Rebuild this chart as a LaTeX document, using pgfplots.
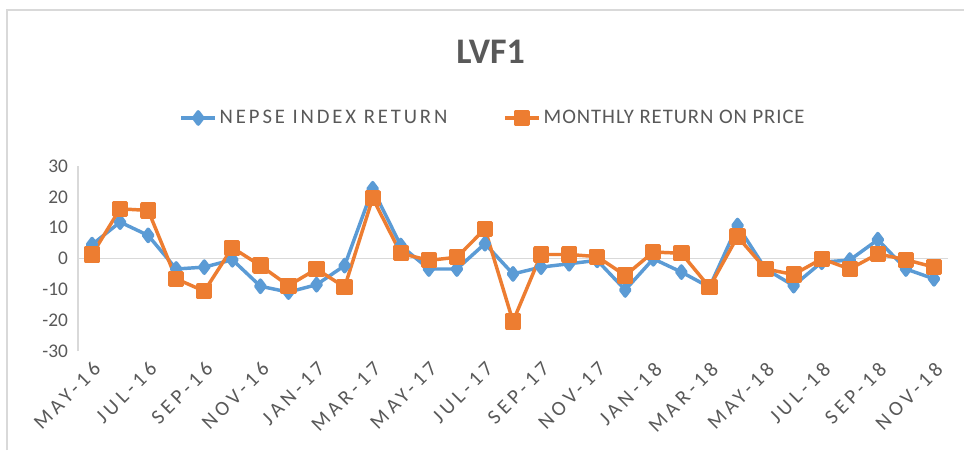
\documentclass[border=0pt]{standalone}
\usepackage{fontspec}
\setmainfont{Carlito}
\usepackage{pgfplots}
\pgfplotsset{compat=1.18}
\definecolor{txt}{HTML}{595959}
\definecolor{nblue}{HTML}{5B9BD5}
\definecolor{norange}{HTML}{ED7D31}
\definecolor{gridc}{HTML}{D9D9D9}
\begin{document}
\begin{tikzpicture}[x=1pt,y=1pt]
\useasboundingbox (0,0) rectangle (723,337.5);
\fill[white] (0,0) rectangle (723,337.5);
\draw[gridc, line width=1.2pt] (5.25,0) -- (5.25,330) -- (723,330);
\node[font=\fontsize{27}{32}\selectfont\bfseries, text=txt] at (368,298.5) {LVF1};
\begin{axis}[
 at={(58.5pt,74.25pt)}, anchor=south west,
 scale only axis, width=652.5pt, height=138.75pt,
 xmin=-0.5, xmax=30.5, ymin=-30, ymax=30,
 axis lines*=left,
 x axis line style={draw=none},
 y axis line style={gridc, line width=0.9pt},
 major tick length=0pt,
 ytick={-30,-20,...,30},
 xtick={0,2,...,30},
 xticklabels={MAY-16,JUL-16,SEP-16,NOV-16,JAN-17,MAR-17,MAY-17,JUL-17,SEP-17,NOV-17,JAN-18,MAR-18,MAY-18,JUL-18,SEP-18,NOV-18},
 tick label style={font=\fontsize{14.5}{17}\selectfont, text=txt},
 /pgf/number format/assume math mode=true,
 yticklabel style={anchor=east, xshift=-4pt},
 xticklabel style={rotate=45, anchor=north east, inner sep=0pt, font=\fontsize{15.5}{18}\selectfont\addfontfeatures{LetterSpace=20}},
 xticklabel shift=7pt,
 extra y ticks={0}, extra y tick labels={},
 extra y tick style={grid=major, major grid style={gridc, line width=0.9pt}},
 legend columns=2,
 legend style={at={(0.4774,1.2595)}, anchor=center, draw=none, fill=none,
   font=\fontsize{15.5}{18}\selectfont, text=txt,
   /tikz/every even column/.append style={column sep=40pt}},
 legend image code/.code={\draw[mark repeat=2,mark phase=2] plot coordinates {(0cm,0cm) (0.45cm,0cm) (0.9cm,0cm)};},
 clip=false,
]
\addplot[nblue, line width=2.6pt, line join=round, mark=diamond*, mark size=4.6pt, mark options={solid}] coordinates {
(0,4.5) (1,11.8) (2,7.5) (3,-3.4) (4,-2.8) (5,-0.4) (6,-9.0) (7,-10.9) (8,-8.5) (9,-2.3)
(10,22.6) (11,4.2) (12,-3.4) (13,-3.4) (14,4.8) (15,-5.0) (16,-2.8) (17,-1.7) (18,-0.6) (19,-10.2)
(20,-0.1) (21,-4.4) (22,-9.3) (23,10.7) (24,-3.4) (25,-8.8) (26,-1.2) (27,-0.5) (28,6.1) (29,-3.4) (30,-6.6)};
\addlegendentry{\addfontfeatures{LetterSpace=14}NEPSE INDEX RETURN}
\addplot[norange, line width=2.6pt, line join=round, mark=square*, mark size=4.8pt, mark options={solid}] coordinates {
(0,1.3) (1,16.1) (2,15.6) (3,-6.6) (4,-10.6) (5,3.5) (6,-2.3) (7,-8.8) (8,-3.4) (9,-9.3)
(10,19.6) (11,1.7) (12,-0.6) (13,0.4) (14,9.6) (15,-20.4) (16,1.3) (17,1.3) (18,0.6) (19,-5.5)
(20,2.1) (21,1.7) (22,-9.3) (23,7.1) (24,-3.4) (25,-5.2) (26,-0.1) (27,-3.4) (28,1.5) (29,-0.4) (30,-2.8)};
\addlegendentry{\addfontfeatures{LetterSpace=4.5}MONTHLY RETURN ON PRICE}
\end{axis}
\end{tikzpicture}
\end{document}
